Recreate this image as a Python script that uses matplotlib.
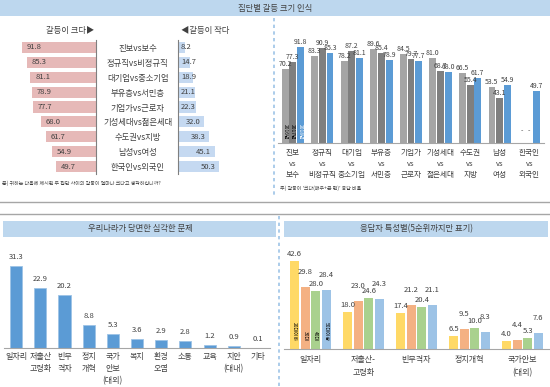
import numpy as np
import matplotlib
matplotlib.use('Agg')
import matplotlib.pyplot as plt
from matplotlib.patches import Rectangle

plt.rcParams['font.family'] = ['Noto Sans CJK KR', 'DejaVu Sans']

W, H = 550, 387

# 집단별 갈등 크기 인식
pairs = ['진보vs보수', '정규직vs비정규직', '대기업vs중소기업', '부유층vs서민층', '기업가vs근로자',
         '기성세대vs젊은세대', '수도권vs지방', '남성vs여성', '한국인vs외국인']
conflict_big = [91.8, 85.3, 81.1, 78.9, 77.7, 68.0, 61.7, 54.9, 49.7]
conflict_small = [8.2, 14.7, 18.9, 21.1, 22.3, 32.0, 38.3, 45.1, 50.3]

# 연도별 '크다' 응답 비율
pair_ticks = ['진보\nvs\n보수', '정규직\nvs\n비정규직', '대기업\nvs\n중소기업', '부유층\nvs\n서민층',
              '기업가\nvs\n근로자', '기성세대\nvs\n젊은세대', '수도권\nvs\n지방', '남성\nvs\n여성',
              '한국인\nvs\n외국인']
years = ['2016년', '2017년', '2018년']
y2016 = [70.2, 83.3, 78.2, 89.6, 84.5, 81.0, 66.5, 53.5, np.nan]
y2017 = [77.3, 90.9, 87.2, 85.4, 79.7, 68.7, 55.4, 43.1, np.nan]
y2018 = [91.8, 85.3, 81.1, 78.9, 77.7, 68.0, 61.7, 54.9, 49.7]

# 우리나라가 당면한 심각한 문제
problems = ['일자리', '저출산\n고령화', '빈부\n격차', '정치\n개혁', '국가\n안보\n(대외)', '복지',
            '환경\n오염', '소통', '교육', '치안\n(대내)', '기타']
problem_pct = [31.3, 22.9, 20.2, 8.8, 5.3, 3.6, 2.9, 2.8, 1.2, 0.9, 0.1]

# 응답자 특성별 (5순위까지만)
top5 = ['일자리', '저출산-\n고령화', '빈부격차', '정치개혁', '국가안보\n(대외)']
groups = ['20대이하', '30대', '40대', '50대이상']
g20 = [42.6, 18.0, 17.4, 6.5, 4.0]
g30 = [29.8, 23.0, 21.2, 9.5, 4.4]
g40 = [28.0, 24.6, 20.4, 10.0, 5.3]
g50 = [28.4, 24.3, 21.1, 8.3, 7.6]

txt = '#404040'
head = '#BDD7EE'

fig = plt.figure(figsize=(W / 100, H / 100), dpi=100)


def px_axes(x0, y0, x1, y1):
    ax = fig.add_axes([x0 / W, 1 - y1 / H, (x1 - x0) / W, (y1 - y0) / H])
    ax.set_facecolor('none')
    return ax


# 배경: 제목 띠, 구분선
bg = fig.add_axes([0, 0, 1, 1])
bg.set_xlim(0, W)
bg.set_ylim(H, 0)
bg.axis('off')
bg.add_patch(Rectangle((0, 0), W, 16, color=head, lw=0))
bg.text(275, 8, '집단별 갈등 크기 인식', ha='center', va='center', fontsize=6, color=txt)
bg.add_patch(Rectangle((3, 221), 273, 16, color=head, lw=0))
bg.text(140, 229, '우리나라가 당면한 심각한 문제', ha='center', va='center', fontsize=6, color=txt)
bg.add_patch(Rectangle((284, 221), 264, 16, color=head, lw=0))
bg.text(416, 229, '응답자 특성별(5순위까지만 표기)', ha='center', va='center', fontsize=6, color=txt)
bg.plot([0, W], [202, 202], color='#A6A6A6', lw=1)
bg.plot([0, W], [214, 214], color='#A6A6A6', lw=1)
bg.plot([274, 274], [18, 195], color='#9DC3E6', lw=1.2, ls=(0, (2, 2)))
bg.plot([279, 279], [216, 387], color='#9DC3E6', lw=1.2, ls=(0, (2, 2)))
bg.text(70, 30, '갈등이 크다▶', ha='center', va='center', fontsize=6, color=txt)
bg.text(205, 30, '◀갈등이 작다', ha='center', va='center', fontsize=6, color=txt)
bg.text(2, 183, '문) 귀하는 다음에 제시된 두 집단 사이의 갈등이 얼마나 크다고 생각하십니까?',
        ha='left', va='center', fontsize=3.6, color=txt)
bg.text(280, 188, "주) 갈등이 '크다(매우+큰 편)' 응답 비율", ha='left', va='center', fontsize=3.6, color=txt)

# 좌상: 크다 / 작다
rows = np.arange(len(pairs))
axl = px_axes(15, 40, 96, 174)
axl.barh(rows, conflict_big, height=0.74, color='#E6B9B8')
axl.set_xlim(100, 0)
axl.set_ylim(len(pairs) - 0.5, -0.5)
for i, v in enumerate(conflict_big):
    axl.annotate(f'{v:.1f}', (v, i), xytext=(5, 0), textcoords='offset pixels',
                 ha='left', va='center', fontsize=5.5, color=txt)
for s in ['top', 'left', 'bottom']:
    axl.spines[s].set_visible(False)
axl.spines['right'].set_color('#7F7F7F')
axl.set_xticks([])
axl.yaxis.tick_right()
axl.set_yticks(rows)
axl.set_yticklabels(pairs, fontsize=6, color=txt)
axl.tick_params(axis='y', length=0, pad=30)
for lab in axl.get_yticklabels():
    lab.set_ha('center')

axr = px_axes(178, 40, 260, 174)
axr.barh(rows, conflict_small, height=0.74, color='#C5D9F1')
axr.set_xlim(0, 100)
axr.set_ylim(len(pairs) - 0.5, -0.5)
for i, v in enumerate(conflict_small):
    if v > 25:
        axr.annotate(f'{v:.1f}', (v, i), xytext=(-4, 0), textcoords='offset pixels',
                     ha='right', va='center', fontsize=5.5, color=txt)
    else:
        axr.annotate(f'{v:.1f}', (0, i), xytext=(3, 0), textcoords='offset pixels',
                     ha='left', va='center', fontsize=5.5, color=txt)
for s in ['top', 'right', 'bottom']:
    axr.spines[s].set_visible(False)
axr.spines['left'].set_color('#7F7F7F')
axr.set_xticks([])
axr.set_yticks([])

# 우상: 연도별
axt = px_axes(278, 38, 544, 143)
x = np.arange(len(pair_ticks))
bw = 0.26
for k, (vals, col, tc) in enumerate(zip([y2016, y2017, y2018], ['#A5A5A5', '#7F7F7F', '#5B9BD5'],
                                        ['black', 'black', 'white'])):
    xs = x + (k - 1) * bw
    axt.bar(xs, vals, width=bw * 0.9, color=col)
    for xi, v in zip(xs, vals):
        if np.isnan(v):
            axt.annotate('-', (xi, 0), xytext=(0, 8), textcoords='offset pixels',
                         ha='center', va='bottom', fontsize=5, color=txt)
        else:
            axt.annotate(f'{v:.1f}', (xi, v), xytext=(0, 1), textcoords='offset pixels',
                         ha='center', va='bottom', fontsize=5, color=txt)
    axt.annotate(years[k], (xs[0], 0), xytext=(0, 3), textcoords='offset pixels',
                 ha='center', va='bottom', rotation=270, fontsize=3.5, color=tc)
axt.set_xlim(-0.5, len(pair_ticks) - 0.5)
axt.set_ylim(0, 100)
for s in ['top', 'left', 'right']:
    axt.spines[s].set_visible(False)
axt.spines['bottom'].set_color('#A6A6A6')
axt.set_yticks([])
axt.set_xticks(x)
axt.set_xticklabels(pair_ticks, fontsize=5.5, color=txt, linespacing=1.5)
axt.tick_params(axis='x', length=0, pad=4)

# 좌하: 심각한 문제
axb = px_axes(4, 256, 270, 348)
xp = np.arange(len(problems))
axb.bar(xp, problem_pct, width=0.5, color='#5B9BD5', edgecolor='#9DC3E6', lw=0.6)
for xi, v in zip(xp, problem_pct):
    axb.annotate(f'{v:.1f}', (xi, v), xytext=(0, 5), textcoords='offset pixels',
                 ha='center', va='bottom', fontsize=5.5, color=txt)
axb.set_xlim(-0.5, len(problems) - 0.5)
axb.set_ylim(0, 35)
for s in ['top', 'left', 'right']:
    axb.spines[s].set_visible(False)
axb.spines['bottom'].set_color('#A6A6A6')
axb.set_yticks([])
axb.set_xticks(xp)
axb.set_xticklabels(problems, fontsize=5.8, color=txt, linespacing=1.4)
axb.tick_params(axis='x', length=0, pad=3)

# 우하: 응답자 특성별
axg = px_axes(284, 256, 549, 349)
xg = np.arange(len(top5))
gw = 0.2
lab_off = [3, 11, 3, 11]
for k, (vals, col) in enumerate(zip([g20, g30, g40, g50], ['#FFD966', '#F4B183', '#A9D18E', '#9DC3E6'])):
    xs = xg + (k - 1.5) * gw
    axg.bar(xs, vals, width=gw * 0.85, color=col)
    for xi, v in zip(xs, vals):
        axg.annotate(f'{v:.1f}', (xi, v), xytext=(0, lab_off[k]), textcoords='offset pixels',
                     ha='center', va='bottom', fontsize=5.5, color=txt)
    axg.annotate(groups[k], (xs[0], 0), xytext=(0, 8), textcoords='offset pixels',
                 ha='center', va='bottom', rotation=270, fontsize=3.5, color='black')
axg.set_xlim(-0.5, len(top5) - 0.5)
axg.set_ylim(0, 45)
for s in ['top', 'left', 'right']:
    axg.spines[s].set_visible(False)
axg.spines['bottom'].set_color('#A6A6A6')
axg.set_yticks([])
axg.set_xticks(xg)
axg.set_xticklabels(top5, fontsize=5.8, color=txt, linespacing=1.6)
axg.tick_params(axis='x', length=0, pad=4)

fig.savefig('out.png', dpi=100)
